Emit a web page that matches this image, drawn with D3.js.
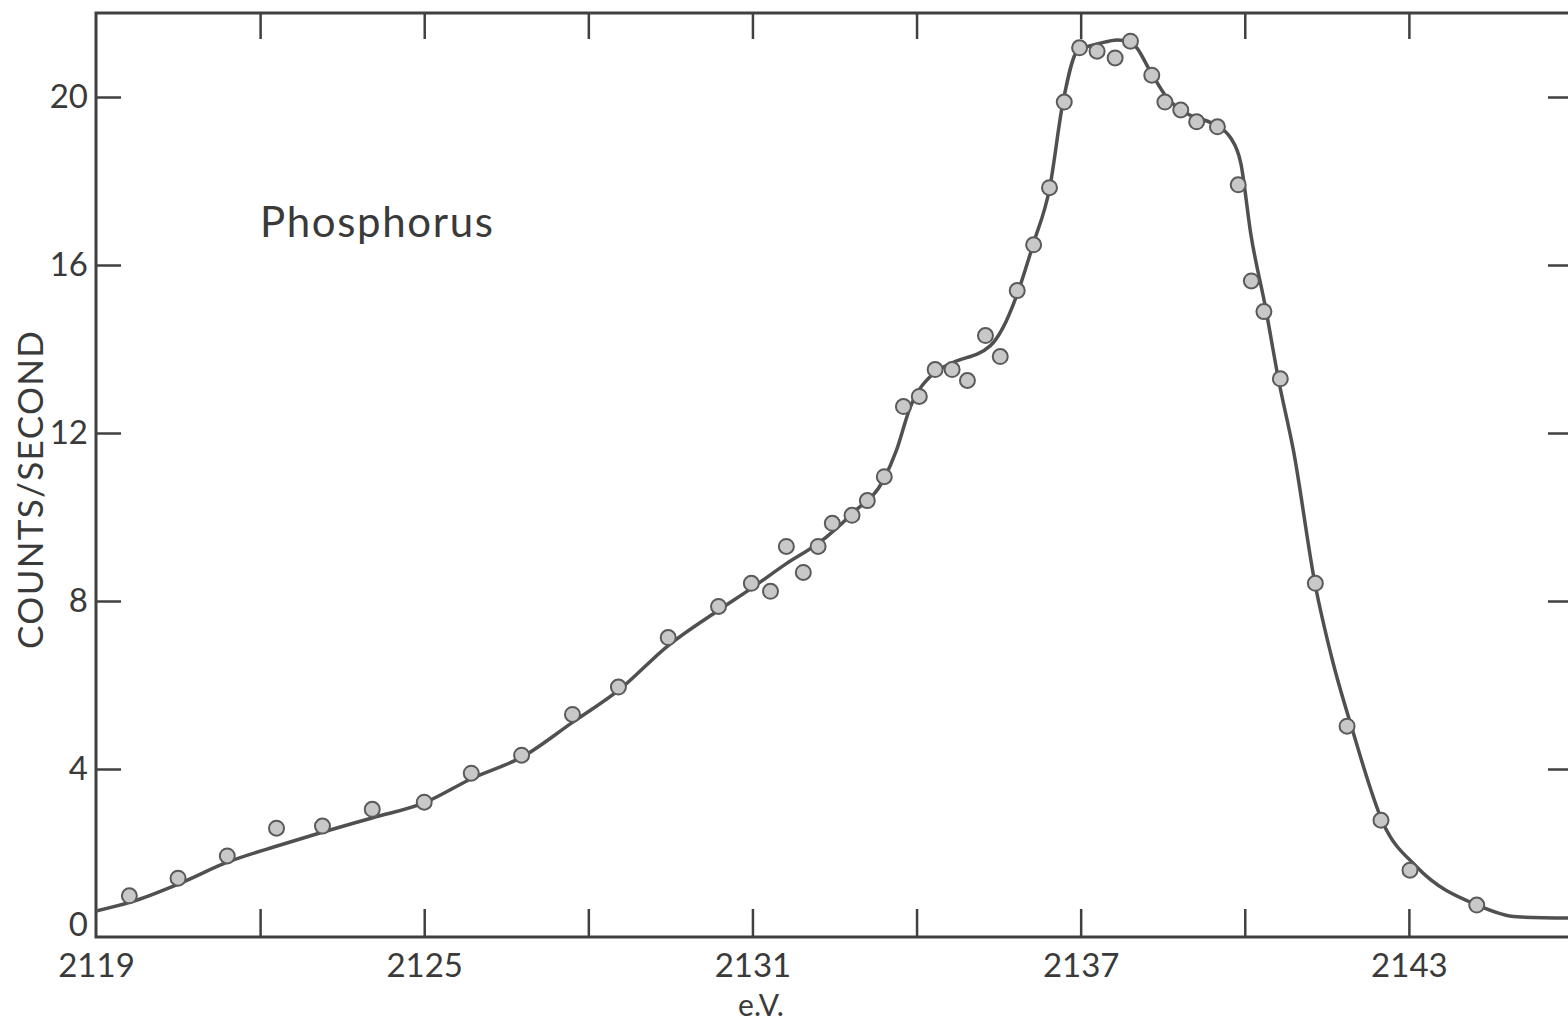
<!DOCTYPE html>
<html>
<head>
<meta charset="utf-8">
<script src="https://cdn.jsdelivr.net/npm/d3@7"></script>
<style>
  html, body { margin: 0; padding: 0; background: #fff; overflow: hidden; }
  svg { display: block; }
  text { font-family: Lato, "Open Sans", sans-serif; fill: #3a3a3a; }
</style>
</head>
<body>
<div id="chart"></div>
<script>
"use strict";

// measured points (eV, counts/s)
const pointEnergy = [
  2119.61, 2120.5, 2121.4, 2122.3, 2123.14, 2124.05, 2125.0, 2125.86, 2126.78, 2127.71,
  2128.55, 2129.46, 2130.38, 2130.98, 2131.33, 2131.62, 2131.93, 2132.2, 2132.46, 2132.82,
  2133.1, 2133.41, 2133.76, 2134.05, 2134.34, 2134.65, 2134.93, 2135.26, 2135.53, 2135.84,
  2136.14, 2136.43, 2136.7, 2136.98, 2137.3, 2137.63, 2137.91, 2138.3, 2138.54, 2138.83,
  2139.12, 2139.5, 2139.88, 2140.12, 2140.35, 2140.65, 2141.29, 2141.87, 2142.49, 2143.02,
  2144.24,
];
const pointCounts = [
  0.98, 1.4, 1.93, 2.59, 2.64, 3.04, 3.21, 3.9, 4.33, 5.3,
  5.95, 7.13, 7.87, 8.42, 8.23, 9.3, 8.68, 9.3, 9.85, 10.04,
  10.39, 10.96, 12.63, 12.87, 13.51, 13.51, 13.25, 14.32, 13.82, 15.39,
  16.48, 17.84, 19.88, 21.17, 21.09, 20.93, 21.33, 20.52, 19.88, 19.69,
  19.41, 19.29, 17.91, 15.62, 14.89, 13.29, 8.42, 5.02, 2.78, 1.59,
  0.76,
];

// hand-drawn smooth curve
const curveEnergy = [
  2119.0, 2119.63, 2120.54, 2121.4, 2122.37, 2123.15, 2124.06, 2125.01, 2125.88, 2126.81,
  2127.71, 2128.55, 2129.46, 2130.38, 2130.98, 2131.62, 2132.2, 2132.82, 2133.41, 2133.63,
  2133.88, 2134.3, 2134.62, 2135.35, 2135.58, 2135.84, 2136.14, 2136.43, 2136.68, 2136.94,
  2137.36, 2137.67, 2137.96, 2138.27, 2138.58, 2138.95, 2139.42, 2139.74, 2139.93, 2140.11,
  2140.38, 2140.62, 2140.89, 2141.29, 2141.6, 2141.97, 2142.53, 2143.15, 2144.25, 2144.98,
  2145.91,
];
const curveCounts = [
  0.62, 0.83, 1.28, 1.78, 2.19, 2.5, 2.84, 3.2, 3.78, 4.3,
  5.11, 5.87, 6.94, 7.78, 8.3, 8.89, 9.37, 10.08, 10.92, 11.58,
  12.6, 13.41, 13.65, 14.08, 14.51, 15.31, 16.53, 17.81, 19.9, 21.09,
  21.28, 21.36, 21.26, 20.62, 19.98, 19.6, 19.36, 19.03, 18.41, 16.74,
  14.98, 13.25, 11.58, 8.37, 6.6, 4.92, 2.71, 1.66, 0.76, 0.48,
  0.45,
];

const xTickValues = [2122, 2125, 2128, 2131, 2134, 2137, 2140, 2143];
const xLabelValues = [2119, 2125, 2131, 2137, 2143];
const yTickValues = [4, 8, 12, 16, 20];
const yLabelValues = [0, 4, 8, 12, 16, 20];

const width = 1568;
const height = 1024;
const margin = { top: 13, right: -5, bottom: 87, left: 96 };
const innerW = width - margin.left - margin.right;
const innerH = height - margin.top - margin.bottom;
const ink = "#404040";

const svg = d3
  .select("#chart")
  .append("svg")
  .attr("width", width)
  .attr("height", height);

const g = svg.append("g").attr("transform", `translate(${margin.left},${margin.top})`);

const x = d3.scaleLinear().domain([2119, 2146]).range([0, innerW]);
const y = d3.scaleLinear().domain([0, 22]).range([innerH, 0]);

// frame
g.append("rect")
  .attr("x", 0)
  .attr("y", 0)
  .attr("width", innerW)
  .attr("height", innerH)
  .attr("fill", "none")
  .attr("stroke", ink)
  .attr("stroke-width", 3);

function styleTicks(sel) {
  sel.select(".domain").remove();
  sel.selectAll(".tick line").attr("stroke", ink).attr("stroke-width", 2.5);
}

// inward ticks on all four sides
g.append("g")
  .attr("transform", `translate(0,${innerH})`)
  .call(d3.axisBottom(x).tickValues(xTickValues).tickSize(-28).tickFormat(""))
  .call(styleTicks);
g.append("g")
  .call(d3.axisTop(x).tickValues(xTickValues).tickSize(-26).tickFormat(""))
  .call(styleTicks);
g.append("g")
  .call(d3.axisLeft(y).tickValues(yTickValues).tickSize(-25).tickFormat(""))
  .call(styleTicks);
g.append("g")
  .attr("transform", `translate(${innerW},0)`)
  .call(d3.axisRight(y).tickValues(yTickValues).tickSize(-25).tickFormat(""))
  .call(styleTicks);

// labels
const xLab = g
  .append("g")
  .attr("transform", `translate(0,${innerH})`)
  .call(d3.axisBottom(x).tickValues(xLabelValues).tickSize(0).tickPadding(17).tickFormat(d3.format("d")));
xLab.select(".domain").remove();
xLab.selectAll("text").style("font-size", "33px").style("fill", "#3a3a3a").attr("font-family", null);

const yLab = g
  .append("g")
  .call(d3.axisLeft(y).tickValues(yLabelValues).tickSize(0).tickPadding(8).tickFormat(d3.format("d")));
yLab.select(".domain").remove();
yLab.selectAll("text").style("font-size", "33px").style("fill", "#3a3a3a").attr("font-family", null);
// the "0" sits a little above the corner so it clears "2119"
yLab.selectAll(".tick").filter((d) => d === 0).select("text").attr("dy", "-0.05em");

// curve
const line = d3
  .line()
  .x((d) => x(d[0]))
  .y((d) => y(d[1]))
  .curve(d3.curveMonotoneX);

g.append("path")
  .datum(curveEnergy.map((e, i) => [e, curveCounts[i]]))
  .attr("fill", "none")
  .attr("stroke", "#505050")
  .attr("stroke-width", 3.5)
  .attr("d", line);

// points
g.append("g")
  .selectAll("circle")
  .data(pointEnergy.map((e, i) => [e, pointCounts[i]]))
  .join("circle")
  .attr("cx", (d) => x(d[0]))
  .attr("cy", (d) => y(d[1]))
  .attr("r", 7.5)
  .attr("fill", "#c8c8c8")
  .attr("stroke", "#5a5a5a")
  .attr("stroke-width", 2);

// titles
g.append("text")
  .attr("x", 164)
  .attr("y", 224)
  .attr("textLength", 233)
  .attr("lengthAdjust", "spacing")
  .style("font-size", "42px")
  .text("Phosphorus");

svg.append("text")
  .attr("transform", "translate(43,490) rotate(-90)")
  .attr("text-anchor", "middle")
  .attr("textLength", 318)
  .attr("lengthAdjust", "spacing")
  .style("font-size", "35px")
  .text("COUNTS/SECOND");

svg.append("text")
  .attr("x", 761)
  .attr("y", 1016)
  .attr("text-anchor", "middle")
  .style("font-size", "30px")
  .text("e.V.");
</script>
</body>
</html>
